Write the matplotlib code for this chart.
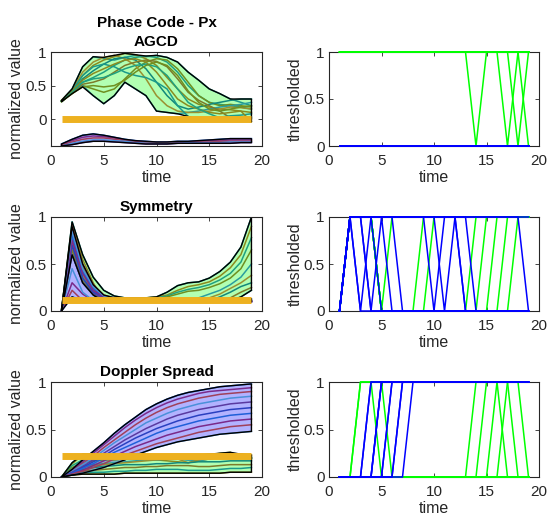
import numpy as np
import matplotlib
matplotlib.use("Agg")
import matplotlib.pyplot as plt

plt.rcParams['font.family'] = ['Liberation Sans', 'DejaVu Sans']

t = np.arange(1, 20)

# AGCD
agcd_thr = 0.0
agcd_green = [
    [0.28, 0.45, 0.78, 0.93, 0.90, 0.88, 0.92, 0.95, 0.93, 0.95, 0.92, 0.85, 0.70, 0.58, 0.45, 0.38, 0.30, 0.25, 0.20],
    [0.27, 0.42, 0.65, 0.80, 0.88, 0.93, 0.98, 0.96, 0.90, 0.80, 0.62, 0.45, 0.30, 0.22, 0.18, 0.15, 0.14, 0.12, 0.10],
    [0.26, 0.40, 0.55, 0.62, 0.70, 0.80, 0.88, 0.92, 0.94, 0.92, 0.85, 0.70, 0.50, 0.35, 0.25, 0.22, 0.20, 0.18, 0.15],
    [0.27, 0.38, 0.50, 0.45, 0.40, 0.45, 0.60, 0.75, 0.85, 0.90, 0.88, 0.75, 0.55, 0.35, 0.25, 0.20, 0.22, 0.20, 0.18],
    [0.26, 0.40, 0.50, 0.35, 0.23, 0.35, 0.55, 0.45, 0.35, 0.12, 0.10, 0.08, 0.10, 0.12, 0.15, 0.18, 0.20, 0.22, 0.25],
    [0.28, 0.44, 0.70, 0.85, 0.92, 0.95, 0.90, 0.80, 0.60, 0.35, 0.20, 0.12, 0.10, 0.10, 0.12, 0.15, 0.18, 0.17, 0.15],
    [0.27, 0.41, 0.60, 0.72, 0.82, 0.90, 0.92, 0.88, 0.75, 0.55, 0.35, 0.20, 0.15, 0.18, 0.22, 0.25, 0.28, 0.30, 0.30],
    [0.26, 0.39, 0.52, 0.55, 0.60, 0.70, 0.80, 0.85, 0.88, 0.86, 0.78, 0.60, 0.40, 0.28, 0.20, 0.12, 0.02, -0.01, 0.01],
    [0.27, 0.43, 0.65, 0.78, 0.82, 0.78, 0.70, 0.65, 0.62, 0.55, 0.45, 0.20, 0.04, -0.01, 0.02, 0.03, 0.05, 0.06, 0.08],
    [0.28, 0.42, 0.58, 0.68, 0.75, 0.82, 0.88, 0.90, 0.85, 0.70, 0.50, 0.30, 0.20, 0.15, 0.10, 0.08, 0.10, 0.12, -0.04],
    [0.27, 0.40, 0.55, 0.60, 0.62, 0.68, 0.75, 0.80, 0.82, 0.78, 0.65, 0.45, 0.25, 0.15, 0.08, 0.02, -0.01, 0.02, 0.03],
    [0.26, 0.38, 0.48, 0.50, 0.48, 0.50, 0.58, 0.70, 0.80, 0.85, 0.80, 0.65, 0.42, 0.25, 0.15, 0.12, 0.15, 0.18, 0.20],
]
agcd_blue = [
    [-0.37, -0.30, -0.24, -0.22, -0.24, -0.27, -0.30, -0.32, -0.33, -0.34, -0.34, -0.33, -0.33, -0.32, -0.31, -0.30, -0.29, -0.29, -0.29],
    [-0.38, -0.32, -0.27, -0.25, -0.26, -0.28, -0.31, -0.33, -0.34, -0.35, -0.35, -0.34, -0.34, -0.33, -0.32, -0.32, -0.31, -0.31, -0.31],
    [-0.39, -0.34, -0.30, -0.28, -0.28, -0.30, -0.32, -0.34, -0.35, -0.35, -0.35, -0.35, -0.35, -0.34, -0.34, -0.33, -0.33, -0.33, -0.33],
    [-0.40, -0.36, -0.33, -0.31, -0.31, -0.32, -0.33, -0.35, -0.36, -0.36, -0.36, -0.36, -0.35, -0.35, -0.35, -0.35, -0.34, -0.34, -0.34],
    [-0.40, -0.38, -0.35, -0.33, -0.33, -0.34, -0.35, -0.36, -0.37, -0.37, -0.37, -0.36, -0.36, -0.36, -0.36, -0.36, -0.36, -0.35, -0.35],
]

# Symmetry
sym_thr = 0.12
sym_green = [
    [0.00, 0.95, 0.60, 0.36, 0.22, 0.16, 0.14, 0.14, 0.14, 0.15, 0.20, 0.27, 0.30, 0.31, 0.35, 0.42, 0.52, 0.68, 1.00],
    [0.01, 0.92, 0.55, 0.30, 0.11, 0.13, 0.13, 0.13, 0.14, 0.15, 0.17, 0.22, 0.26, 0.28, 0.31, 0.37, 0.46, 0.60, 0.90],
    [0.02, 0.88, 0.50, 0.27, 0.11, 0.11, 0.10, 0.11, 0.13, 0.14, 0.16, 0.20, 0.23, 0.25, 0.28, 0.33, 0.40, 0.52, 0.78],
    [0.00, 0.85, 0.46, 0.25, 0.11, 0.11, 0.10, 0.10, 0.11, 0.13, 0.15, 0.18, 0.21, 0.22, 0.25, 0.29, 0.35, 0.45, 0.65],
    [0.01, 0.80, 0.42, 0.23, 0.10, 0.10, 0.10, 0.10, 0.10, 0.11, 0.11, 0.11, 0.11, 0.14, 0.18, 0.22, 0.28, 0.36, 0.50],
    [0.02, 0.75, 0.38, 0.21, 0.10, 0.10, 0.10, 0.10, 0.10, 0.10, 0.11, 0.11, 0.11, 0.11, 0.14, 0.18, 0.24, 0.30, 0.38],
    [0.00, 0.70, 0.35, 0.19, 0.10, 0.10, 0.10, 0.10, 0.10, 0.10, 0.10, 0.11, 0.11, 0.11, 0.11, 0.15, 0.20, 0.26, 0.30],
    [0.01, 0.65, 0.32, 0.18, 0.10, 0.10, 0.10, 0.10, 0.10, 0.10, 0.10, 0.10, 0.11, 0.11, 0.11, 0.11, 0.14, 0.20, 0.25],
    [0.00, 0.60, 0.30, 0.17, 0.10, 0.10, 0.10, 0.10, 0.10, 0.10, 0.10, 0.10, 0.10, 0.11, 0.11, 0.11, 0.11, 0.15, 0.22],
]
sym_blue = [
    [0.00, 0.15, 0.11, 0.10, 0.10, 0.11, 0.10, 0.10, 0.10, 0.11, 0.10, 0.10, 0.10, 0.11, 0.10, 0.10, 0.10, 0.11, 0.10],
    [0.00, 0.30, 0.18, 0.11, 0.10, 0.11, 0.10, 0.10, 0.11, 0.10, 0.10, 0.11, 0.10, 0.10, 0.10, 0.11, 0.10, 0.10, 0.10],
    [0.00, 0.22, 0.11, 0.13, 0.11, 0.10, 0.10, 0.11, 0.10, 0.10, 0.10, 0.10, 0.11, 0.10, 0.10, 0.10, 0.11, 0.10, 0.10],
    [0.00, 0.45, 0.20, 0.11, 0.13, 0.11, 0.10, 0.10, 0.10, 0.11, 0.10, 0.10, 0.10, 0.10, 0.11, 0.10, 0.10, 0.10, 0.11],
    [0.00, 0.60, 0.30, 0.18, 0.14, 0.13, 0.11, 0.10, 0.10, 0.10, 0.10, 0.11, 0.10, 0.10, 0.10, 0.10, 0.10, 0.11, 0.10],
    [0.00, 0.70, 0.35, 0.20, 0.15, 0.13, 0.13, 0.13, 0.13, 0.11, 0.13, 0.13, 0.11, 0.10, 0.10, 0.10, 0.11, 0.10, 0.10],
    [0.00, 0.80, 0.42, 0.24, 0.16, 0.14, 0.13, 0.13, 0.13, 0.13, 0.11, 0.13, 0.13, 0.11, 0.10, 0.10, 0.10, 0.10, 0.11],
    [0.00, 0.75, 0.40, 0.22, 0.15, 0.13, 0.13, 0.13, 0.13, 0.13, 0.13, 0.13, 0.11, 0.11, 0.10, 0.10, 0.10, 0.11, 0.10],
    [0.00, 0.90, 0.50, 0.28, 0.17, 0.14, 0.13, 0.13, 0.13, 0.13, 0.13, 0.13, 0.13, 0.13, 0.13, 0.13, 0.13, 0.13, 0.11],
    [0.00, 0.85, 0.45, 0.26, 0.16, 0.14, 0.13, 0.13, 0.13, 0.13, 0.13, 0.13, 0.13, 0.13, 0.13, 0.13, 0.13, 0.13, 0.13],
]

# Doppler Spread
dop_thr = 0.22
dop_green = [
    [0.00, 0.15, 0.24, 0.23, 0.21, 0.20, 0.19, 0.19, 0.19, 0.20, 0.20, 0.19, 0.18, 0.20, 0.21, 0.21, 0.20, 0.20, 0.19],
    [0.00, 0.14, 0.23, 0.24, 0.23, 0.21, 0.20, 0.19, 0.18, 0.18, 0.17, 0.16, 0.15, 0.17, 0.19, 0.20, 0.21, 0.20, 0.20],
    [0.00, 0.12, 0.18, 0.19, 0.19, 0.20, 0.20, 0.21, 0.21, 0.20, 0.20, 0.21, 0.21, 0.23, 0.24, 0.23, 0.21, 0.20, 0.20],
    [0.00, 0.10, 0.15, 0.17, 0.18, 0.18, 0.19, 0.19, 0.20, 0.20, 0.21, 0.21, 0.20, 0.21, 0.23, 0.25, 0.26, 0.21, 0.20],
    [0.00, 0.08, 0.12, 0.13, 0.14, 0.15, 0.16, 0.17, 0.18, 0.18, 0.19, 0.19, 0.18, 0.17, 0.19, 0.23, 0.25, 0.24, 0.21],
    [0.00, 0.06, 0.10, 0.12, 0.13, 0.14, 0.15, 0.16, 0.17, 0.18, 0.19, 0.19, 0.15, 0.18, 0.20, 0.21, 0.23, 0.24, 0.23],
    [0.00, 0.05, 0.08, 0.10, 0.11, 0.12, 0.13, 0.13, 0.13, 0.14, 0.14, 0.15, 0.15, 0.16, 0.16, 0.16, 0.17, 0.17, 0.17],
    [0.00, 0.04, 0.06, 0.07, 0.08, 0.09, 0.10, 0.10, 0.11, 0.11, 0.12, 0.12, 0.12, 0.11, 0.11, 0.12, 0.13, 0.13, 0.13],
    [0.00, 0.03, 0.04, 0.05, 0.05, 0.06, 0.06, 0.07, 0.07, 0.08, 0.08, 0.08, 0.07, 0.07, 0.07, 0.08, 0.09, 0.09, 0.10],
    [0.00, 0.02, 0.03, 0.03, 0.03, 0.03, 0.04, 0.04, 0.04, 0.04, 0.04, 0.04, 0.04, 0.04, 0.04, 0.04, 0.05, 0.05, 0.05],
]
dop_blue = [
    [0.00, 0.08, 0.18, 0.27, 0.36, 0.46, 0.55, 0.63, 0.71, 0.77, 0.82, 0.86, 0.89, 0.91, 0.93, 0.95, 0.96, 0.97, 0.98],
    [0.00, 0.07, 0.16, 0.25, 0.34, 0.43, 0.52, 0.60, 0.67, 0.73, 0.78, 0.82, 0.85, 0.88, 0.90, 0.91, 0.92, 0.93, 0.94],
    [0.00, 0.06, 0.14, 0.22, 0.31, 0.39, 0.47, 0.55, 0.62, 0.68, 0.73, 0.77, 0.80, 0.83, 0.85, 0.87, 0.88, 0.89, 0.90],
    [0.00, 0.06, 0.13, 0.20, 0.28, 0.36, 0.43, 0.50, 0.57, 0.62, 0.67, 0.71, 0.74, 0.77, 0.79, 0.81, 0.83, 0.84, 0.85],
    [0.00, 0.05, 0.11, 0.18, 0.25, 0.32, 0.39, 0.45, 0.51, 0.56, 0.61, 0.65, 0.68, 0.71, 0.73, 0.75, 0.77, 0.78, 0.79],
    [0.00, 0.04, 0.10, 0.16, 0.22, 0.29, 0.35, 0.41, 0.46, 0.51, 0.55, 0.59, 0.62, 0.65, 0.67, 0.69, 0.71, 0.72, 0.73],
    [0.00, 0.04, 0.09, 0.14, 0.20, 0.26, 0.31, 0.36, 0.41, 0.46, 0.50, 0.53, 0.56, 0.59, 0.61, 0.63, 0.65, 0.66, 0.67],
    [0.00, 0.03, 0.07, 0.12, 0.17, 0.22, 0.27, 0.32, 0.36, 0.40, 0.44, 0.47, 0.50, 0.53, 0.55, 0.57, 0.59, 0.60, 0.61],
    [0.00, 0.03, 0.06, 0.10, 0.14, 0.19, 0.23, 0.27, 0.31, 0.35, 0.38, 0.41, 0.44, 0.47, 0.49, 0.51, 0.53, 0.54, 0.55],
    [0.00, 0.02, 0.04, 0.07, 0.10, 0.14, 0.18, 0.23, 0.27, 0.31, 0.34, 0.37, 0.39, 0.41, 0.43, 0.45, 0.46, 0.47, 0.48],
]

titles = ["Phase Code - Px\nAGCD", "Symmetry", "Doppler Spread"]
ylims = [(-0.4, 1), (0, 1), (0, 1)]

green_line_cols = ['#1b9a8a', '#8a8a1e', '#20a080', '#6f8f20', '#2a9d9f', '#9a9030', '#12887a', '#7d7a2a']
blue_line_cols = ['#2060d8', '#7a2a8a', '#a0405a', '#4a90d9', '#5a3aa0', '#2a40c0']
ink = (0.15, 0.15, 0.15)
orange = (0.929, 0.694, 0.125)

fig = plt.figure(figsize=(5.59, 5.18), dpi=100)
lefts = [51 / 559, 329 / 559]
widths = [211 / 559, 210 / 559]
rows = [(1 - 146 / 518, 94 / 518), (1 - 311 / 518, 94 / 518), (1 - 477 / 518, 95 / 518)]


def style(ax, ylim):
    ax.set_xlim(0, 20)
    ax.set_ylim(*ylim)
    ax.set_xticks([0, 5, 10, 15, 20])
    ax.set_yticks([0, 0.5, 1])
    ax.set_yticklabels(['0', '0.5', '1'])
    ax.tick_params(direction='in', top=True, right=True, length=3, width=0.6,
                   labelsize=11, colors=ink)
    ax.tick_params(axis='x', pad=6)
    ax.tick_params(axis='y', pad=3)
    for s in ax.spines.values():
        s.set_color(ink)
        s.set_linewidth(0.8)
    ax.set_xlabel('time', fontsize=11.5, color=ink, labelpad=1)


def envelope(ax, curves, face, cols):
    arr = np.array(curves)
    hi = arr.max(axis=0)
    lo = arr.min(axis=0)
    ax.fill(np.r_[t, t[::-1]], np.r_[hi, lo[::-1]], facecolor=face, alpha=0.3,
            edgecolor='none', zorder=1)
    for i, c in enumerate(curves):
        ax.plot(t, c, color=cols[i % len(cols)], lw=1.1, zorder=2)
    ax.fill(np.r_[t, t[::-1]], np.r_[hi, lo[::-1]], facecolor='none',
            edgecolor='k', lw=1.0, zorder=2.2)


panels = [(agcd_green, agcd_blue, agcd_thr), (sym_green, sym_blue, sym_thr), (dop_green, dop_blue, dop_thr)]

for r, (gr, bl, thr) in enumerate(panels):
    b, h = rows[r]
    ax = fig.add_axes([lefts[0], b, widths[0], h])
    envelope(ax, gr, (0, 1, 0), green_line_cols)
    envelope(ax, bl, (0, 0, 1), blue_line_cols)
    ax.plot([1, 19], [thr, thr], color=orange, lw=5, solid_capstyle='butt', zorder=3)
    style(ax, ylims[r])
    ax.set_ylabel('normalized value', fontsize=11.5, color=ink, labelpad=1)
    ax.set_title(titles[r], fontsize=11, fontweight='bold', pad=4, linespacing=1.45)

    ax2 = fig.add_axes([lefts[1], b, widths[1], h])
    for c in gr:
        ax2.plot(t, (np.array(c) > thr).astype(float), color=(0, 1, 0), lw=1.1,
                 clip_on=False, zorder=3)
    for c in bl:
        ax2.plot(t, (np.array(c) > thr).astype(float), color=(0, 0, 1), lw=1.1,
                 clip_on=False, zorder=3)
    style(ax2, (0, 1))
    ax2.set_ylabel('thresholded', fontsize=11.5, color=ink, labelpad=1)

fig.savefig('out.png', dpi=100)
